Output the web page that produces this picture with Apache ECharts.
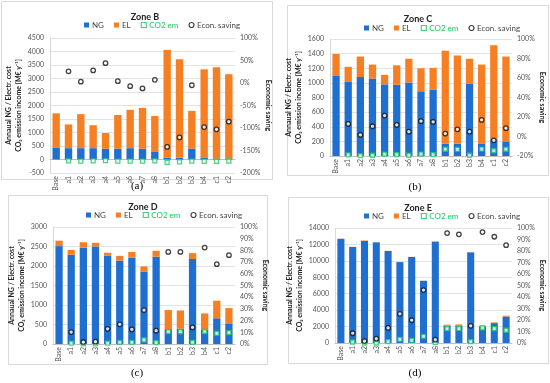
<!DOCTYPE html>
<html><head><meta charset="utf-8">
<script src="https://cdn.jsdelivr.net/npm/echarts@6/dist/echarts.min.js"></script>
<style>html,body{margin:0;padding:0;background:#fff}#c{width:550px;height:383px}</style>
</head><body><div id="c"></div>
<script>
const categories = ['Base','a1','a2','a3','a4','a5','a6','a7','a8','b1','b2','b3','b4','c1','c2'];

// Zone B
const ngB  = [430,420,420,420,400,400,420,400,300,70,70,400,60,40,40];
const elB  = [1280,880,1260,850,580,1250,1420,1510,1310,3990,3640,1400,3280,3380,3120];
const co2B = [null,-50,-60,-50,-40,-60,-60,-60,-50,-110,-90,-60,-70,-70,-60];
const savB = [null,26,3,28,44,4,-7,-12,7,-142,-121,-5,-98,-103,-86];

// Zone C
const ngC  = [1095,1020,1080,1060,980,975,1005,885,905,170,170,990,165,230,200];
const elC  = [300,200,280,190,130,265,325,315,300,1270,1205,340,1085,1285,1160];
const co2C = [null,15,5,10,25,20,10,27,18,92,90,10,95,72,92];
const savC = [null,12.9,1.6,10.5,21.5,11.9,5,15.7,15,3,7.4,5,17,-3.9,8.5];

// Zone D
const ngD  = [2510,2290,2470,2500,2270,2140,2210,1850,2240,380,395,2180,360,660,530];
const elD  = [140,120,140,95,70,120,150,140,150,490,465,150,425,450,390];
const co2D = [null,20,5,5,20,40,40,105,33,315,315,43,320,275,290];
const savD = [null,10.2,1.7,2,13,16.8,12.5,29,11.4,78.7,78.7,14.2,82.4,68.2,75.9];

// Zone E
const ngE  = [12680,11690,12430,12260,11200,9850,10470,7570,12340,2100,2130,11040,2020,2420,3220];
const elE  = [20,20,60,20,20,20,20,20,20,130,140,20,100,90,100];
const co2E = [null,120,0,0,160,450,330,816,40,1750,1750,160,1840,1750,1550];
const savE = [null,8.5,1.7,3.8,13.1,25.4,19.8,46,2.9,95.6,94.5,14.9,96.5,92.4,85.1];

const zoneTitles = ['Zone B','Zone C','Zone D','Zone E'];
const captions = ['(a)','(b)','(c)','(d)'];
const leftName = 'Annaual NG / Electr. cost\nCO\u2082 emission income [M\u20ac y\u207b\u00b9]';
const rightName = 'Economic saving';

const C_NG = '#1f6fd0', C_EL = '#f77f23', C_CO2 = '#19c95e';
const FONT = 'Lato';

const panels = [
  {ng:ngB, el:elB, co2:co2B, sav:savB, lmin:-500, lmax:4500, lint:500, rmin:-200, rmax:100, rint:50,
   grid:{left:50, top:38, width:185, height:135}, box:[1,1,271,178], tx:140, ty:8, lx:84, ly:21, cx:137, cy:186},
  {ng:ngC, el:elC, co2:co2C, sav:savC, lmin:0, lmax:1600, lint:200, rmin:-20, rmax:100, rint:20,
   grid:{left:330, top:39, width:182, height:117}, box:[287,5,261,170], tx:413, ty:10, lx:364, ly:24, cx:415, cy:187},
  {ng:ngD, el:elD, co2:co2D, sav:savD, lmin:0, lmax:3000, lint:500, rmin:0, rmax:100, rint:10,
   grid:{left:53, top:227, width:182, height:117}, box:[8,195,259,169], tx:138, ty:198, lx:86, ly:211, cx:137, cy:373},
  {ng:ngE, el:elE, co2:co2E, sav:savE, lmin:0, lmax:14000, lint:2000, rmin:0, rmax:100, rint:10,
   grid:{left:335, top:228, width:177, height:115}, box:[288,197,260,166], tx:413, ty:199, lx:364, ly:212, cx:415, cy:373}
];

const option = {
  animation:false,
  textStyle:{fontFamily:FONT},
  title:[], legend:[], grid:[], xAxis:[], yAxis:[], series:[], graphic:[]
};

panels.forEach((p,i)=>{
  option.graphic.push({type:'rect', shape:{x:p.box[0]+0.5, y:p.box[1]+0.5, width:p.box[2], height:p.box[3]},
    style:{fill:'none', stroke:'#d9d9d9', lineWidth:1}, z:-1});
  option.graphic.push({type:'text', x:p.cx, y:p.cy, style:{text:captions[i], font:'11px "Liberation Serif"', fill:'#000', textAlign:'center', textVerticalAlign:'middle'}});
  option.title.push({text:zoneTitles[i], left:p.tx, top:p.ty, textAlign:'center',
    textStyle:{fontSize:9, fontWeight:'bold', color:'#222', fontFamily:FONT}});
  option.legend.push({left:p.lx, top:p.ly, itemWidth:5, itemHeight:5, itemGap:10, padding:0,
    textStyle:{fontSize:8, color:'#444', fontFamily:FONT, padding:[0,0,0,-2]},
    data:[
      {name:'NG', icon:'rect', itemStyle:{color:C_NG, borderWidth:0}},
      {name:'EL', icon:'rect', itemStyle:{color:C_EL, borderWidth:0}},
      {name:'CO2 em', icon:'rect', itemStyle:{color:'#fff', borderColor:C_CO2, borderWidth:1.2}, textStyle:{color:C_CO2}},
      {name:'Econ. saving', icon:'circle', itemStyle:{color:'#fff', borderColor:'#111', borderWidth:1.2}}
    ]});
  option.grid.push(Object.assign({containLabel:false}, p.grid));
  option.xAxis.push({type:'category', gridIndex:i, data:categories,
    axisLine:{show:true, onZero:true, lineStyle:{color:'#bfbfbf'}}, axisTick:{show:false},
    axisLabel:{rotate:90, fontSize:7, color:'#555', margin:3, interval:0, fontFamily:FONT}});
  option.yAxis.push({type:'value', gridIndex:i, min:p.lmin, max:p.lmax, interval:p.lint,
    name:leftName, nameLocation:'middle', nameRotate:90, nameGap:17,
    nameTextStyle:{fontSize:7, fontWeight:'bold', color:'#222', lineHeight:10, fontFamily:FONT},
    axisLine:{show:true, lineStyle:{color:'#d9d9d9'}}, axisTick:{show:false},
    axisLabel:{fontSize:7, color:'#555', margin:6, fontFamily:FONT, formatter:v=>String(v)},
    splitLine:{show:true, lineStyle:{color:'#e3e3e3'}}});
  option.yAxis.push({type:'value', gridIndex:i, position:'right', min:p.rmin, max:p.rmax, interval:p.rint,
    name:rightName, nameLocation:'middle', nameRotate:-90, nameGap:27,
    nameTextStyle:{fontSize:7, fontWeight:'bold', color:'#222', fontFamily:FONT},
    axisLine:{show:false}, axisTick:{show:false},
    axisLabel:{fontSize:7, color:'#555', margin:5, formatter:'{value}%', fontFamily:FONT},
    splitLine:{show:false}});
  const yl = 2*i, yr = 2*i+1;
  option.series.push({type:'bar', name:'NG', stack:'s'+i, xAxisIndex:i, yAxisIndex:yl, data:p.ng, barWidth:'60%', itemStyle:{color:C_NG}});
  option.series.push({type:'bar', name:'EL', stack:'s'+i, xAxisIndex:i, yAxisIndex:yl, data:p.el, barWidth:'60%', itemStyle:{color:C_EL}});
  option.series.push({type:'scatter', name:'CO2 em', xAxisIndex:i, yAxisIndex:yl, data:p.co2, symbol:'rect', symbolSize:4,
    itemStyle:{color:'#fff', borderColor:C_CO2, borderWidth:1.3}, z:5});
  option.series.push({type:'scatter', name:'Econ. saving', xAxisIndex:i, yAxisIndex:yr, data:p.sav, symbol:'circle', symbolSize:4.5,
    itemStyle:{color:'#fff', borderColor:'#111', borderWidth:1.3}, z:6});
});

const chart = echarts.init(document.getElementById('c'), null, {renderer:'canvas'});
chart.setOption(option);
</script></body></html>
